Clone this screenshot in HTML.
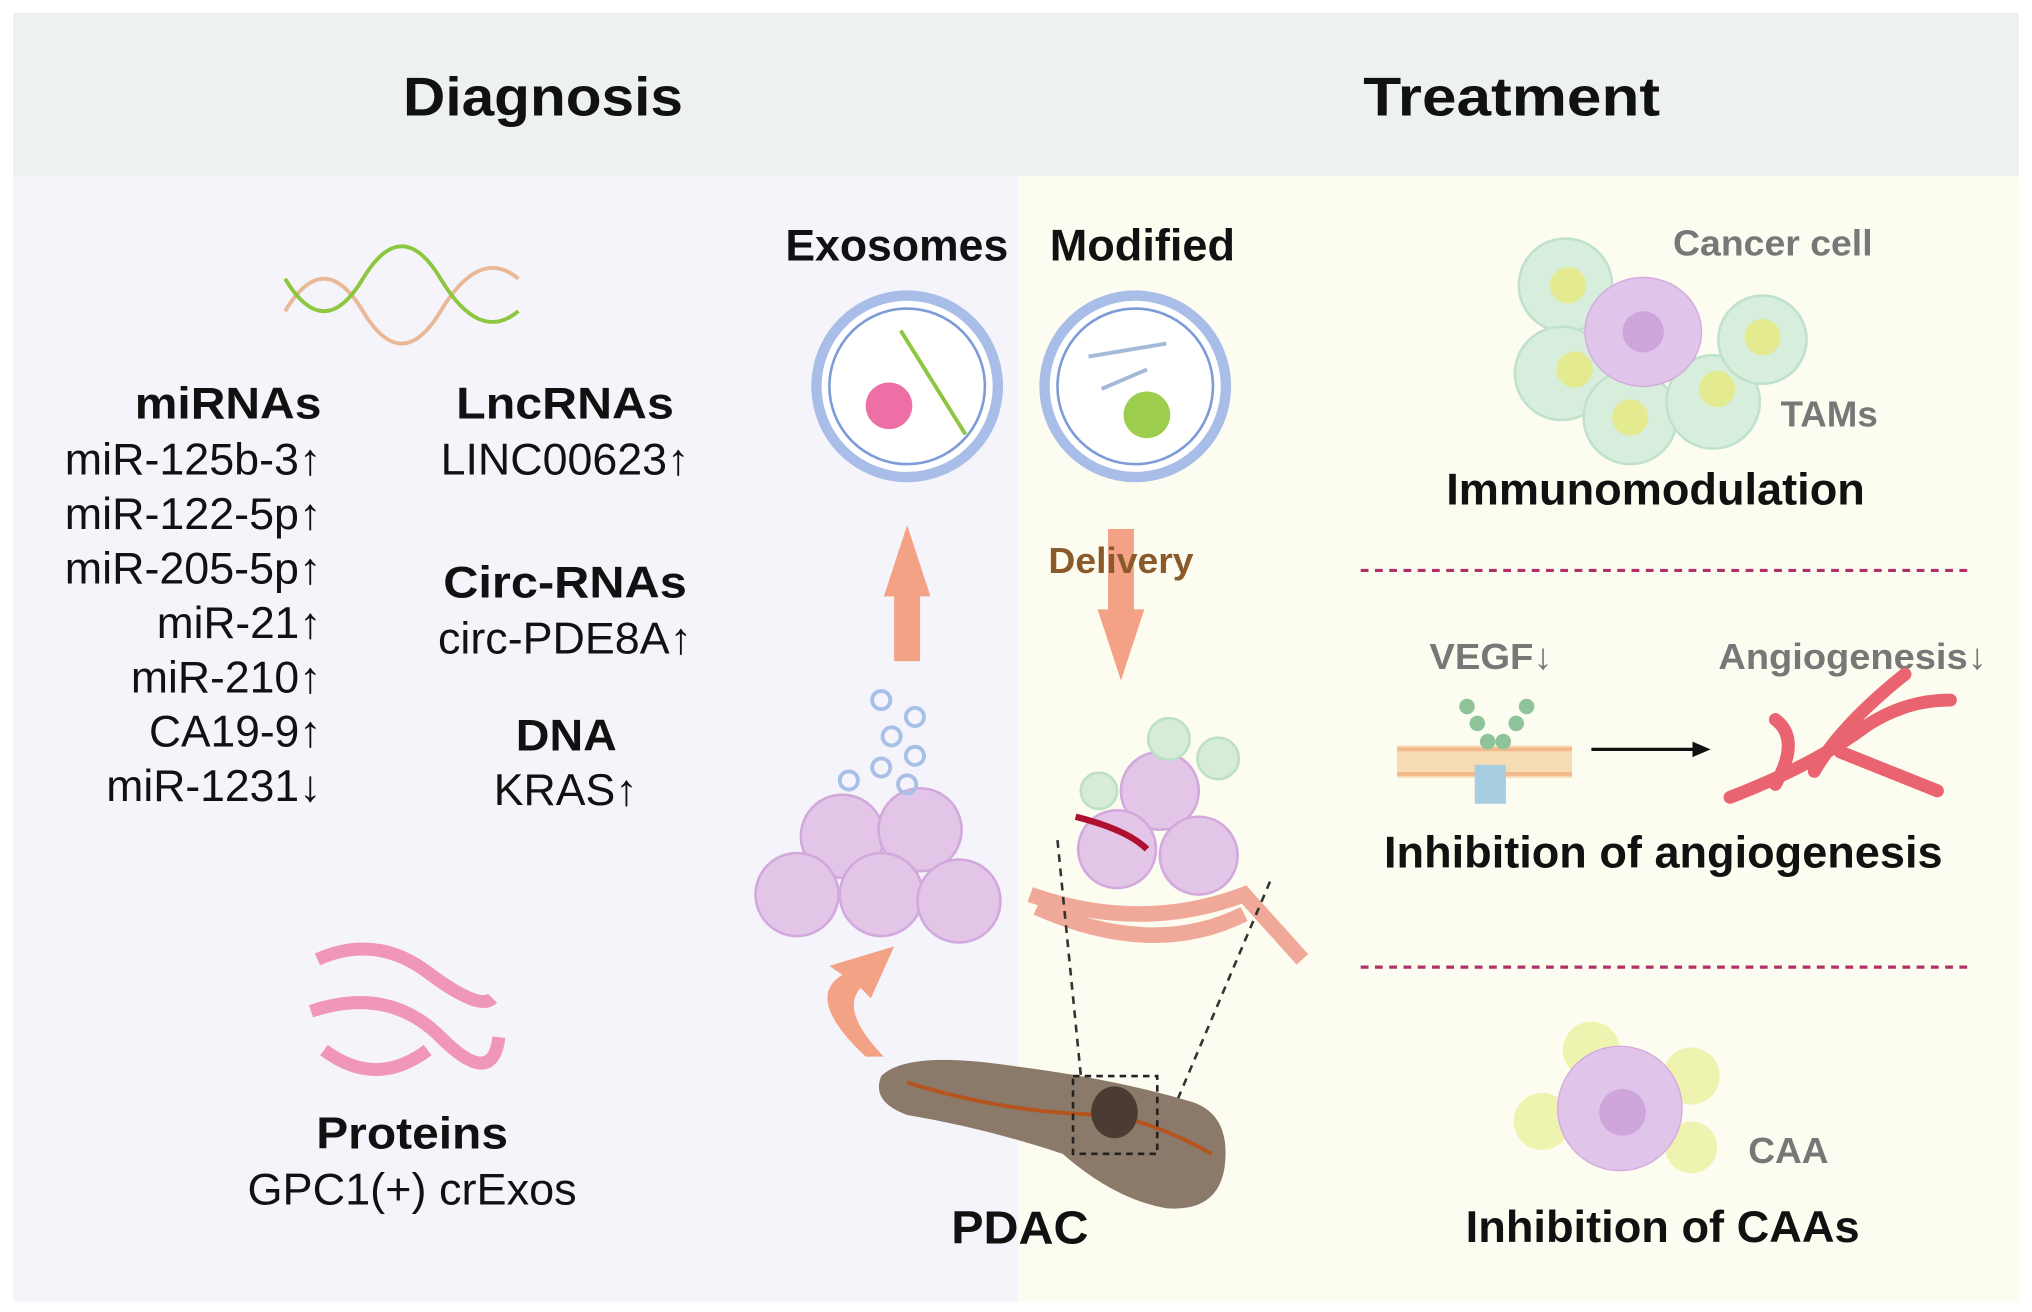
<!DOCTYPE html>
<html><head><meta charset="utf-8"><style>
html,body{margin:0;padding:0;background:#fff;}
svg{display:block;}
text{font-family:"Liberation Sans",Arial,sans-serif;}
</style></head><body>
<svg width="2032" height="1312" viewBox="0 0 1568 1012" preserveAspectRatio="none" xmlns="http://www.w3.org/2000/svg">
<rect x="0" y="0" width="1568" height="1012" fill="#fff"/>
<rect x="10" y="10" width="1548" height="126" fill="#eef2ef"/>
<rect x="10" y="136" width="776" height="868" fill="#f5f4fa"/>
<rect x="786" y="136" width="772" height="868" fill="#fdfcf0"/>
<text x="311" y="89" font-size="42" font-weight="bold" textLength="216" lengthAdjust="spacingAndGlyphs" fill="#111">Diagnosis</text>
<text x="1052" y="89" font-size="42" font-weight="bold" textLength="229" lengthAdjust="spacingAndGlyphs" fill="#111">Treatment</text>

<g stroke-width="3" fill="none">
<path d="M220 240 Q250 190 280 240 T340 240 T400 215" stroke="#e9b896"/>
<path d="M220 215 Q250 265 280 215 T340 215 T400 240" stroke="#8dc63f"/>
</g>
<g font-size="34" fill="#111">
<text x="104" y="323" font-weight="bold" textLength="144" lengthAdjust="spacingAndGlyphs">miRNAs</text>
<text x="50" y="366" textLength="198" lengthAdjust="spacingAndGlyphs">miR-125b-3↑</text>
<text x="50" y="408" textLength="198" lengthAdjust="spacingAndGlyphs">miR-122-5p↑</text>
<text x="50" y="450" textLength="198" lengthAdjust="spacingAndGlyphs">miR-205-5p↑</text>
<text x="121" y="492" textLength="127" lengthAdjust="spacingAndGlyphs">miR-21↑</text>
<text x="101" y="534" textLength="147" lengthAdjust="spacingAndGlyphs">miR-210↑</text>
<text x="115" y="576" textLength="133" lengthAdjust="spacingAndGlyphs">CA19-9↑</text>
<text x="82" y="618" textLength="166" lengthAdjust="spacingAndGlyphs">miR-1231↓</text>
<text x="352" y="323" font-weight="bold" textLength="168" lengthAdjust="spacingAndGlyphs">LncRNAs</text>
<text x="340" y="366" textLength="192" lengthAdjust="spacingAndGlyphs">LINC00623↑</text>
<text x="342" y="461" font-weight="bold" textLength="188" lengthAdjust="spacingAndGlyphs">Circ-RNAs</text>
<text x="338" y="504" textLength="196" lengthAdjust="spacingAndGlyphs">circ-PDE8A↑</text>
<text x="398" y="579" font-weight="bold" textLength="78" lengthAdjust="spacingAndGlyphs">DNA</text>
<text x="381" y="621" textLength="111" lengthAdjust="spacingAndGlyphs">KRAS↑</text>
<text x="244" y="886" font-weight="bold" textLength="148" lengthAdjust="spacingAndGlyphs">Proteins</text>
<text x="191" y="929" textLength="254" lengthAdjust="spacingAndGlyphs">GPC1(+) crExos</text>
<text x="734" y="959" font-weight="bold" font-size="36" textLength="106" lengthAdjust="spacingAndGlyphs">PDAC</text>
<text x="606" y="201" font-weight="bold" textLength="172" lengthAdjust="spacingAndGlyphs">Exosomes</text>
<text x="810" y="201" font-weight="bold" textLength="143" lengthAdjust="spacingAndGlyphs">Modified</text>
<text x="1116" y="389" font-weight="bold" textLength="323" lengthAdjust="spacingAndGlyphs">Immunomodulation</text>
<text x="1068" y="669" font-weight="bold" textLength="431" lengthAdjust="spacingAndGlyphs">Inhibition of angiogenesis</text>
<text x="1131" y="958" font-weight="bold" textLength="304" lengthAdjust="spacingAndGlyphs">Inhibition of CAAs</text>
</g>
<g font-size="28" font-weight="bold" fill="#777">
<text x="1291" y="197" textLength="154" lengthAdjust="spacingAndGlyphs">Cancer cell</text>
<text x="1374" y="329" textLength="75" lengthAdjust="spacingAndGlyphs">TAMs</text>
<text x="1103" y="516" textLength="95" lengthAdjust="spacingAndGlyphs">VEGF↓</text>
<text x="1326" y="516" textLength="207" lengthAdjust="spacingAndGlyphs">Angiogenesis↓</text>
<text x="1349" y="897" textLength="62" lengthAdjust="spacingAndGlyphs">CAA</text>
</g>

<g fill="none" stroke="#f08cb4" stroke-width="10" opacity="0.9">
<path d="M245 740 Q290 720 330 750 T380 770 M240 780 Q300 760 340 800 T385 800 M250 810 Q290 840 330 810"/>
</g>

<circle cx="700" cy="298" r="70" fill="#fff" stroke="#a8bde8" stroke-width="8"/>
<circle cx="700" cy="298" r="60" fill="none" stroke="#7d9bd8" stroke-width="2"/>
<circle cx="686" cy="313" r="18" fill="#ee6ea6"/>
<path d="M695 255 L745 335" stroke="#8dc63f" stroke-width="3"/>
<circle cx="876" cy="298" r="70" fill="#fff" stroke="#a8bde8" stroke-width="8"/>
<circle cx="876" cy="298" r="60" fill="none" stroke="#7d9bd8" stroke-width="2"/>
<circle cx="885" cy="320" r="18" fill="#9ccd4c"/>
<path d="M840 275 L900 265 M850 300 L885 285" stroke="#a4b8d8" stroke-width="3"/>

<path d="M690 510 L690 460 L682 460 L700 405 L718 460 L710 460 L710 510 Z" fill="#f4a285"/>
<path d="M855 408 L855 470 L847 470 L865 525 L883 470 L875 470 L875 408 Z" fill="#f4a285"/>
<text x="809" y="442" font-size="28" font-weight="bold" fill="#8b5a2b" textLength="112" lengthAdjust="spacingAndGlyphs">Delivery</text>
<path d="M668 815 Q620 770 650 752 L640 745 L690 730 L672 770 L664 762 Q648 780 682 815 Z" fill="#f4a285"/>

<g fill="#e3c5e8" stroke="#d2a9dc" stroke-width="2">
<circle cx="650" cy="645" r="32"/><circle cx="710" cy="640" r="32"/>
<circle cx="615" cy="690" r="32"/><circle cx="680" cy="690" r="32"/><circle cx="740" cy="695" r="32"/>
</g>
<g fill="none" stroke="#a9c0e6" stroke-width="3">
<circle cx="680" cy="540" r="7"/><circle cx="706" cy="553" r="7"/><circle cx="688" cy="568" r="7"/><circle cx="706" cy="583" r="7"/><circle cx="680" cy="592" r="7"/><circle cx="655" cy="602" r="7"/><circle cx="700" cy="605" r="7"/>
</g>
<g fill="#e3c5e8" stroke="#d2a9dc" stroke-width="2">
<circle cx="895" cy="610" r="30"/><circle cx="862" cy="655" r="30"/><circle cx="925" cy="660" r="30"/>
</g>
<g fill="#d6ecd6" stroke="#bde0c6" stroke-width="2"><circle cx="902" cy="570" r="16"/><circle cx="940" cy="585" r="16"/><circle cx="848" cy="610" r="14"/></g>
<path d="M795 690 Q880 720 960 690 L1005 740 M800 700 Q890 740 960 705" stroke="#f0a898" stroke-width="12" fill="none"/>
<path d="M830 630 Q870 640 885 655" stroke="#b01030" stroke-width="5" fill="none"/>
<path d="M816 648 L840 890 M980 680 L893 885" stroke="#333" stroke-width="2" stroke-dasharray="6,5" fill="none"/>
<path d="M680 830 Q700 810 780 822 Q860 832 920 850 Q950 860 945 900 Q940 935 900 932 Q860 925 820 890 Q760 870 700 860 Q672 850 680 830 Z" fill="#8b7a6a"/>
<path d="M700 835 Q780 860 860 860 Q900 870 935 890" stroke="#b5541e" stroke-width="3" fill="none"/>
<rect x="828" y="830" width="65" height="60" fill="none" stroke="#222" stroke-width="2" stroke-dasharray="5,4"/>
<ellipse cx="860" cy="858" rx="18" ry="20" fill="#4a3c32"/>

<g fill="#d8eedc" stroke="#c0e2cc" stroke-width="2">
<circle cx="1208" cy="220" r="36"/><circle cx="1205" cy="288" r="36"/><circle cx="1258" cy="322" r="36"/><circle cx="1322" cy="310" r="36"/><circle cx="1360" cy="262" r="34"/>
</g>
<g fill="#e4ea90"><circle cx="1210" cy="220" r="14"/><circle cx="1215" cy="285" r="14"/><circle cx="1258" cy="322" r="14"/><circle cx="1325" cy="300" r="14"/><circle cx="1360" cy="260" r="14"/></g>
<ellipse cx="1268" cy="256" rx="45" ry="42" fill="#e1c4ea" stroke="#d2a9dc"/>
<circle cx="1268" cy="256" r="16" fill="#cfa6dc"/>
<path d="M1050 440 L1518 440 M1050 746 L1518 746" stroke="#b0306a" stroke-width="2.5" stroke-dasharray="6,5"/>
<rect x="1078" y="575" width="135" height="25" fill="#f6dcb4"/>
<path d="M1078 578 H1213 M1078 597 H1213" stroke="#f3b98a" stroke-width="3"/>
<g fill="#8fc49a"><circle cx="1132" cy="545" r="6"/><circle cx="1140" cy="558" r="6"/><circle cx="1148" cy="572" r="6"/><circle cx="1178" cy="545" r="6"/><circle cx="1170" cy="558" r="6"/><circle cx="1160" cy="572" r="6"/></g>
<rect x="1138" y="590" width="24" height="30" fill="#a6cde0"/>
<path d="M1228 578 L1310 578" stroke="#111" stroke-width="2.5"/>
<path d="M1320 578 L1306 572 L1306 584 Z" fill="#111"/>
<path d="M1335 615 Q1400 590 1440 560 Q1470 540 1505 540 M1400 595 Q1420 560 1470 520 M1420 580 Q1470 600 1495 610 M1370 605 Q1390 570 1370 555" stroke="#e96470" stroke-width="10" fill="none" stroke-linecap="round"/>
<g fill="#eef3b0"><circle cx="1228" cy="810" r="22"/><circle cx="1305" cy="830" r="22"/><circle cx="1190" cy="865" r="22"/><circle cx="1305" cy="885" r="20"/></g>
<ellipse cx="1250" cy="855" rx="48" ry="48" fill="#e1c4ea" stroke="#d2a9dc"/>
<circle cx="1252" cy="858" r="18" fill="#cfa6dc"/>
</svg>
</body></html>
